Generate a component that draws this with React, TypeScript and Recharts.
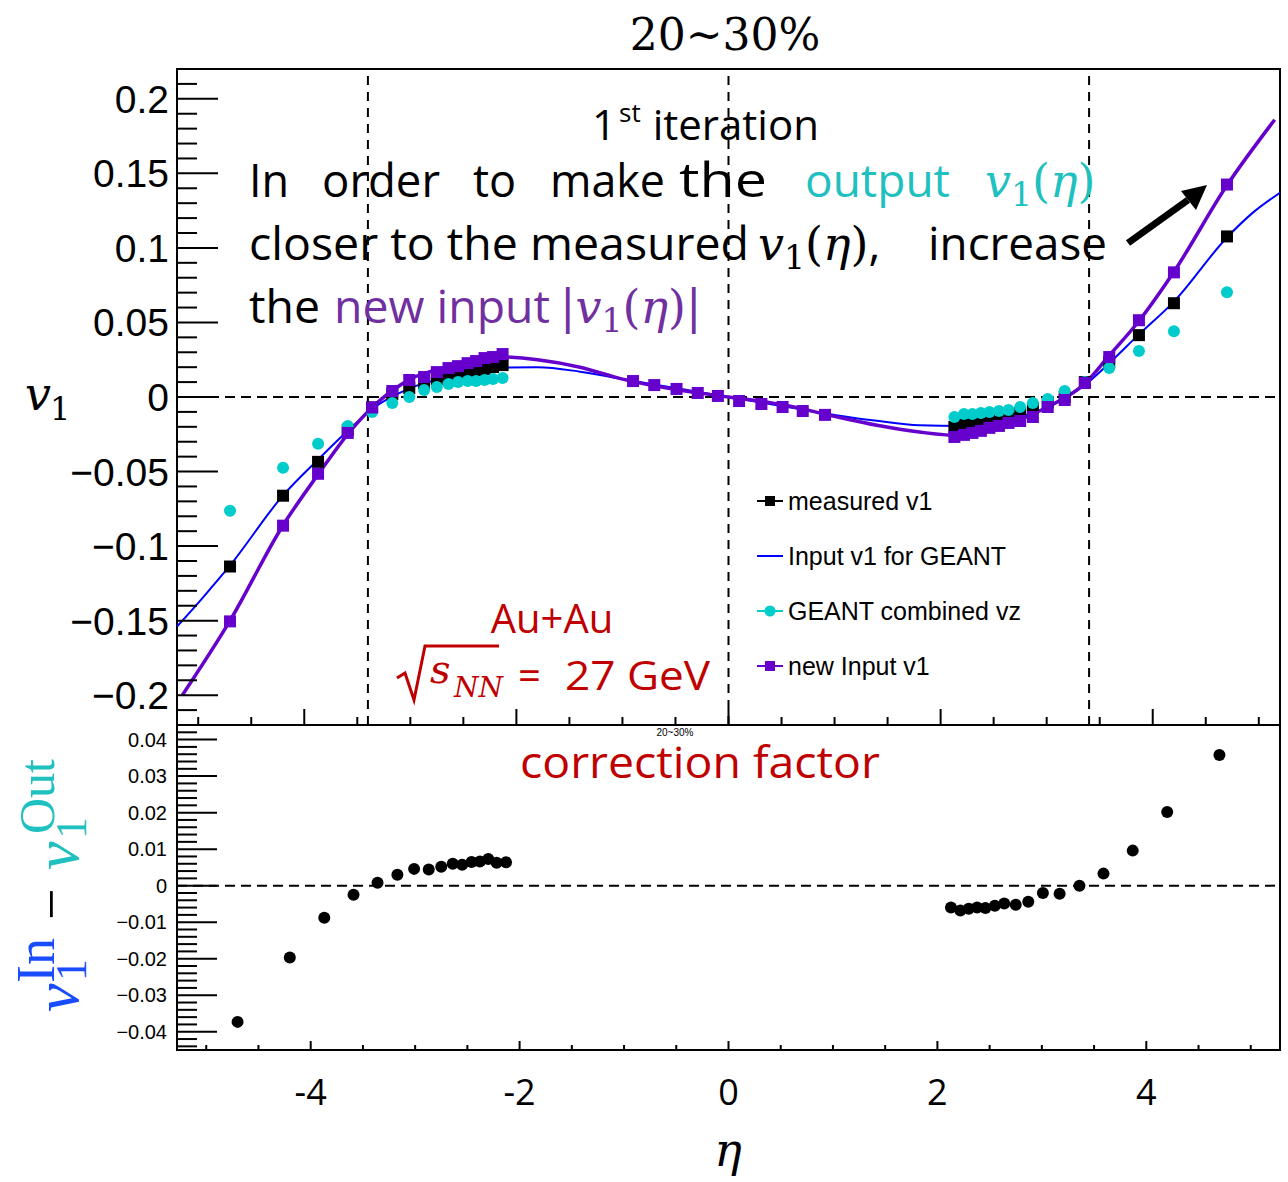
import React from "react";
import { ComposedChart, Line, Scatter, XAxis, YAxis, ReferenceLine, ReferenceArea } from "recharts";

// ---------- data ----------
const etaNeg = [-4.7, -4.2, -3.87, -3.59, -3.36, -3.17, -3.01, -2.87, -2.75, -2.64, -2.55, -2.46, -2.38, -2.3, -2.22, -2.13];
const etaPos = [2.13, 2.22, 2.3, 2.38, 2.46, 2.55, 2.64, 2.75, 2.87, 3.01, 3.17, 3.36, 3.59, 3.87, 4.2, 4.7];
const etaMid = [-0.9, -0.7, -0.49, -0.29, -0.1, 0.1, 0.31, 0.51, 0.7, 0.91];

const measuredNeg = [-0.1137, -0.0662, -0.0435, -0.022, -0.007, 0.002, 0.006, 0.0094, 0.012, 0.014, 0.0154, 0.0167, 0.0181, 0.0187, 0.0201, 0.0214];
const measuredPos = [-0.0201, -0.0181, -0.0174, -0.0167, -0.0154, -0.014, -0.0127, -0.0107, -0.0074, -0.0035, 0.0, 0.01, 0.0234, 0.0415, 0.0629, 0.1077];

const geantNeg = [-0.0763, -0.0475, -0.0314, -0.0194, -0.01, -0.004, 0.0, 0.0047, 0.0067, 0.0087, 0.01, 0.0107, 0.0107, 0.0114, 0.012, 0.0127];
const geantPos = [-0.0134, -0.0114, -0.0114, -0.0107, -0.01, -0.0094, -0.0087, -0.0067, -0.004, -0.0013, 0.004, 0.01, 0.0194, 0.0308, 0.0441, 0.0702];

const newInputNeg = [-0.1505, -0.0863, -0.0515, -0.0241, -0.007, 0.004, 0.0114, 0.0134, 0.0167, 0.0194, 0.0207, 0.0227, 0.0241, 0.0261, 0.0268, 0.0288];
const newInputMid = [0.0107, 0.008, 0.0054, 0.0027, 0.0007, -0.0027, -0.0047, -0.0067, -0.0094, -0.012];
const newInputPos = [-0.0268, -0.0254, -0.0241, -0.0227, -0.0207, -0.0194, -0.0174, -0.0161, -0.0134, -0.0067, -0.002, 0.0094, 0.0268, 0.0515, 0.0836, 0.1425];

const inputCurveEta = [-5.2, -4.95, -4.7, -4.2, -3.87, -3.58, -3.36, -3.0, -2.6, -2.2, -1.8, -1.4, -1.0, -0.5, 0, 0.5, 1.0, 1.4, 1.8, 2.2, 2.6, 3.0, 3.36, 3.58, 3.87, 4.2, 4.7, 4.95, 5.2];
const inputCurveV1 = [-0.154, -0.134, -0.113, -0.066, -0.042, -0.022, -0.008, 0.006, 0.014, 0.0195, 0.02, 0.017, 0.012, 0.006, 0, -0.006, -0.012, -0.016, -0.019, -0.0195, -0.016, -0.007, 0.008, 0.022, 0.042, 0.064, 0.107, 0.124, 0.137];

const newCurveEta = [-5.15, -4.7, -4.2, -3.87, -3.58, -3.36, -3.0, -2.6, -2.2, -1.8, -1.4, -1.0, -0.5, 0, 0.5, 1.0, 1.4, 1.8, 2.2, 2.6, 3.0, 3.36, 3.58, 3.87, 4.2, 4.7, 5.15];
const newCurveV1 = [-0.2, -0.15, -0.086, -0.052, -0.024, -0.007, 0.012, 0.021, 0.027, 0.025, 0.02, 0.012, 0.005, 0, -0.005, -0.013, -0.019, -0.0235, -0.026, -0.019, -0.007, 0.009, 0.027, 0.051, 0.084, 0.142, 0.186];

const corrNeg = [-0.0373, -0.0197, -0.0088, -0.0025, 0.0008, 0.003, 0.0046, 0.0044, 0.0052, 0.006, 0.0057, 0.0065, 0.0066, 0.0073, 0.0063, 0.0064];
const corrPos = [-0.006, -0.0068, -0.0063, -0.006, -0.0061, -0.0055, -0.0049, -0.0052, -0.0044, -0.002, -0.0022, 0.0, 0.0033, 0.0096, 0.0202, 0.0358];

// ---------- ticks ----------
const etaTickLabels = [-4, -2, 0, 2, 4];
const v1TickLabels = [-0.2, -0.15, -0.1, -0.05, 0, 0.05, 0.1, 0.15, 0.2];
const corrTickLabels = [-0.04, -0.03, -0.02, -0.01, 0, 0.01, 0.02, 0.03, 0.04];
const vLines = [-3.4, 0, 3.4];

const etaAllTicks: number[] = [];
for (let i = -10; i <= 10; i++) etaAllTicks.push(i / 2);
const v1AllTicks: number[] = [];
for (let i = -21; i <= 21; i++) v1AllTicks.push(i / 100);
const corrAllTicks: number[] = [];
for (let i = -22; i <= 22; i++) corrAllTicks.push(i / 500);

const pts = (xs: number[], ys: number[]) => xs.map((x, i) => ({ x, y: ys[i] }));
const measuredData = [...pts(etaNeg, measuredNeg), ...pts(etaPos, measuredPos)];
const geantData = [...pts(etaNeg, geantNeg), ...pts(etaPos, geantPos)];
const newInputData = [...pts(etaNeg, newInputNeg), ...pts(etaMid, newInputMid), ...pts(etaPos, newInputPos)];
const inputCurveData = pts(inputCurveEta, inputCurveV1);
const newCurveData = pts(newCurveEta, newCurveV1);
const corrData = [...pts(etaNeg, corrNeg), ...pts(etaPos, corrPos)];

// ---------- styles ----------
const C_BLUE = "#0000ff";
const C_PURPLE = "#6600cc";
const C_CYAN = "#00cccc";
const C_RED = "#c00000";
const C_TXT_CYAN = "#1fc0c0";
const C_TXT_PURPLE = "#7030a0";

const isIn = (arr: number[], v: number) => arr.some((m) => Math.abs(m - v) < 1e-9);
const fmtNum = (v: number) => (Math.abs(v) < 1e-12 ? "0" : (v < 0 ? "\u2212" : "") + String(Math.abs(v)));

const makeYTick = (majors: number[], majorLen: number, minorLen: number, fontSize: number, gap: number) => (props: any) => {
  const { x, y, payload } = props;
  const v = payload.value;
  const major = isIn(majors, v);
  return (
    <g>
      <line x1={x} x2={x + (major ? majorLen : minorLen)} y1={y} y2={y} stroke="#000" strokeWidth={2} />
      {major && (
        <text x={x - gap} y={y} dy="0.36em" textAnchor="end" fontFamily="Liberation Sans, Arial, sans-serif" fontSize={fontSize} fill="#000">
          {fmtNum(v)}
        </text>
      )}
    </g>
  );
};

const makeXTick = (majors: number[], majorLen: number, minorLen: number, showLabels: boolean) => (props: any) => {
  const { x, y, payload } = props;
  const v = payload.value;
  const major = isIn(majors, v);
  return (
    <g>
      <line x1={x} x2={x} y1={y} y2={y - (major ? majorLen : minorLen)} stroke="#000" strokeWidth={2} />
      {showLabels && major && (
        <text x={x} y={y + 55} textAnchor="middle" fontFamily="Open Sans, sans-serif" fontSize={36} fill="#000">
          {v < 0 ? `-${Math.abs(v)}` : String(v)}
        </text>
      )}
    </g>
  );
};

const rectShape = (color: string, size: number) => (p: any) => (
  <rect x={p.cx - size / 2} y={p.cy - size / 2} width={size} height={size} fill={color} />
);
const circShape = (color: string, r: number) => (p: any) => <circle cx={p.cx} cy={p.cy} r={r} fill={color} />;

const MathV = ({ x, y, color, size = 46, bars = false, comma = false }: any) => (
  <text x={x} y={y} fill={color} fontFamily="DejaVu Serif, serif" fontSize={size}>
    {bars && <tspan>|</tspan>}
    <tspan fontStyle="italic">v</tspan>
    <tspan fontSize={size * 0.72} dy={size * 0.2}>1</tspan>
    <tspan dy={-size * 0.2}>(</tspan>
    <tspan fontStyle="italic">η</tspan>
    <tspan>)</tspan>
    {bars && <tspan>|</tspan>}
    {comma && <tspan fontFamily="Open Sans, sans-serif">,</tspan>}
  </text>
);

const legendItems = [
  { label: "measured v1", color: "#000", marker: "square" },
  { label: "Input v1 for GEANT", color: C_BLUE, marker: "none" },
  { label: "GEANT combined vz", color: C_CYAN, marker: "circle" },
  { label: "new Input v1", color: C_PURPLE, marker: "square" },
];

const SANS = "Open Sans, sans-serif";

export default function App() {
  return (
    <div style={{ position: "absolute", left: 0, top: 0, width: 1288, height: 1182, background: "#fff", overflow: "hidden" }}>
      {/* top panel */}
      <div style={{ position: "absolute", left: 0, top: 0 }}>
        <ComposedChart width={1288} height={740} margin={{ top: 69, right: 8, bottom: 0, left: 0 }}>
          <XAxis type="number" dataKey="x" domain={[-5.2, 5.2]} allowDataOverflow ticks={etaAllTicks} interval={0}
            tickSize={0} tickMargin={0} axisLine={false} tickLine={false} height={15} tick={makeXTick(etaTickLabels, 16, 8, false)} />
          <YAxis type="number" dataKey="y" domain={[-0.22, 0.22]} allowDataOverflow ticks={v1AllTicks} interval={0}
            tickSize={0} tickMargin={0} axisLine={false} tickLine={false} width={177} tick={makeYTick(v1TickLabels, 41, 20, 39, 8)} />
          <ReferenceLine y={0} stroke="#000" strokeWidth={2} strokeDasharray="10 6" />
          {vLines.map((v) => (
            <ReferenceLine key={v} x={v} stroke="#000" strokeWidth={2} strokeDasharray="9 7" />
          ))}
          <Line data={inputCurveData} dataKey="y" type="monotone" stroke={C_BLUE} strokeWidth={2} dot={false} activeDot={false} isAnimationActive={false} />
          <Line data={newCurveData} dataKey="y" type="monotone" stroke={C_PURPLE} strokeWidth={3.5} dot={false} activeDot={false} isAnimationActive={false} />
          <Scatter data={measuredData} shape={rectShape("#000", 12)} isAnimationActive={false} />
          <Scatter data={geantData} shape={circShape(C_CYAN, 6)} isAnimationActive={false} />
          <Scatter data={newInputData} shape={rectShape(C_PURPLE, 12)} isAnimationActive={false} />
          <ReferenceArea x1={-5.2} x2={5.2} y1={-0.22} y2={0.22} fill="none" fillOpacity={0} stroke="#000" strokeWidth={2} />
        </ComposedChart>
      </div>

      {/* bottom panel */}
      <div style={{ position: "absolute", left: 0, top: 700 }}>
        <ComposedChart width={1288} height={430} margin={{ top: 25, right: 8, bottom: 0, left: 0 }}>
          <XAxis type="number" dataKey="x" domain={[-5.28, 5.28]} allowDataOverflow ticks={etaAllTicks} interval={0}
            tickSize={0} tickMargin={0} axisLine={false} tickLine={false} height={80} tick={makeXTick(etaTickLabels, 9, 5, true)} />
          <YAxis type="number" dataKey="y" domain={[-0.045, 0.044]} allowDataOverflow ticks={corrAllTicks} interval={0}
            tickSize={0} tickMargin={0} axisLine={false} tickLine={false} width={177} tick={makeYTick(corrTickLabels, 40, 20, 20, 10)} />
          <ReferenceLine y={0} stroke="#000" strokeWidth={2} strokeDasharray="10 6" />
          <Scatter data={corrData} shape={circShape("#000", 6)} isAnimationActive={false} />
          <ReferenceArea x1={-5.28} x2={5.28} y1={-0.045} y2={0.044} fill="none" fillOpacity={0} stroke="#000" strokeWidth={2} />
        </ComposedChart>
      </div>

      {/* annotations */}
      <svg width={1288} height={1182} style={{ position: "absolute", left: 0, top: 0, pointerEvents: "none" }}>
        {/* title */}
        <text x={725} y={50} textAnchor="middle" fontFamily="DejaVu Serif, serif" fontSize={44} fill="#000">20~30%</text>
        <text x={675} y={736} textAnchor="middle" fontFamily="Liberation Sans, Arial, sans-serif" fontSize={10} fill="#000">20~30%</text>

        {/* 1st iteration */}
        <text x={592} y={140} fontFamily={SANS} fontSize={42} fill="#000">
          1<tspan fontSize={26} dx={3} dy={-18}>st</tspan>
          <tspan fontSize={42} dx={12} dy={18}>iteration</tspan>
        </text>

        {/* line 2 */}
        <g fontFamily={SANS} fontSize={45}>
          <text x={249} y={197} fill="#000">In</text>
          <text x={322} y={197} fill="#000" textLength={118} lengthAdjust="spacingAndGlyphs">order</text>
          <text x={473} y={197} fill="#000">to</text>
          <text x={550} y={197} fill="#000" textLength={115} lengthAdjust="spacingAndGlyphs">make</text>
          <text x={679} y={197} fill="#000" fontSize={47} textLength={88} lengthAdjust="spacingAndGlyphs">the</text>
          <text x={805} y={197} fill={C_TXT_CYAN} textLength={145} lengthAdjust="spacingAndGlyphs">output</text>
        </g>
        <MathV x={985} y={197} color={C_TXT_CYAN} />

        {/* line 3 */}
        <text x={249} y={260} fontFamily={SANS} fontSize={45} fill="#000" textLength={500} lengthAdjust="spacingAndGlyphs">closer to the measured</text>
        <MathV x={758} y={260} color="#000" comma />
        <text x={928} y={260} fontFamily={SANS} fontSize={45} fill="#000" textLength={179} lengthAdjust="spacingAndGlyphs">increase</text>

        {/* line 4 */}
        <text x={249} y={323} fontFamily={SANS} fontSize={45} fill="#000" textLength={71} lengthAdjust="spacingAndGlyphs">the</text>
        <text x={334} y={323} fontFamily={SANS} fontSize={45} fill={C_TXT_PURPLE} textLength={216} lengthAdjust="spacingAndGlyphs">new input</text>
        <MathV x={560} y={323} color={C_TXT_PURPLE} bars />

        {/* arrow */}
        <line x1={1128} y1={243} x2={1188} y2={200} stroke="#000" strokeWidth={7} />
        <polygon points="1207,185 1181,191 1196,210" fill="#000" />

        {/* Au+Au */}
        <text x={552} y={633} textAnchor="middle" fontFamily={SANS} fontSize={40} fill={C_RED}>Au+Au</text>
        <path d="M397,678 L405,673 L414,700 L425,646 L499,646" fill="none" stroke={C_RED} strokeWidth={3} strokeLinejoin="miter" />
        <text x={430} y={683} fontFamily="DejaVu Serif, serif" fontStyle="italic" fontSize={40} fill={C_RED}>s</text>
        <text x={454} y={697} fontFamily="DejaVu Serif, serif" fontStyle="italic" fontSize={28} fill={C_RED}>NN</text>
        <text x={518} y={690} fontFamily={SANS} fontSize={40} fill={C_RED}>=</text>
        <text x={565} y={690} fontFamily={SANS} fontSize={40} fill={C_RED} textLength={145} lengthAdjust="spacingAndGlyphs">27 GeV</text>

        {/* correction factor */}
        <text x={520} y={778} fontFamily={SANS} fontSize={44} fill={C_RED} textLength={360} lengthAdjust="spacingAndGlyphs">correction factor</text>

        {/* legend */}
        {legendItems.map((it, i) => {
          const y = 501 + i * 55;
          return (
            <g key={it.label}>
              <line x1={757} x2={783} y1={y} y2={y} stroke={it.color} strokeWidth={2} />
              {it.marker === "square" && <rect x={765} y={y - 5} width={10} height={10} fill={it.color} />}
              {it.marker === "circle" && <circle cx={770} cy={y} r={5.5} fill={it.color} />}
              <text x={788} y={y + 9} fontFamily="Liberation Sans, Arial, sans-serif" fontSize={25} fill="#000">{it.label}</text>
            </g>
          );
        })}

        {/* y title top */}
        <text x={25} y={410} fontFamily="DejaVu Serif, serif" fontStyle="italic" fontSize={46} fill="#000">v</text>
        <text x={50} y={420} fontFamily="DejaVu Serif, serif" fontSize={32} fill="#000">1</text>

        {/* y title bottom (rotated) */}
        <g transform="translate(78,1012) rotate(-90)" fontFamily="Liberation Serif, serif">
          <text x={0} y={0} fontStyle="italic" fontSize={64} fill="#1a4cff">v</text>
          <text x={31} y={8} fontSize={44} fill="#1a4cff">1</text>
          <text x={29} y={-24} fontSize={54} fill="#1a4cff">In</text>
          <text x={92} y={-8} fontSize={56} fill="#000">−</text>
          <text x={142} y={0} fontStyle="italic" fontSize={64} fill={C_TXT_CYAN}>v</text>
          <text x={173} y={8} fontSize={44} fill={C_TXT_CYAN}>1</text>
          <text x={178} y={-24} fontSize={50} fill={C_TXT_CYAN}>Out</text>
        </g>

        {/* x title */}
        <text x={728} y={1166} textAnchor="middle" fontFamily="DejaVu Serif, serif" fontStyle="italic" fontSize={46} fill="#000">η</text>
      </svg>
    </div>
  );
}
